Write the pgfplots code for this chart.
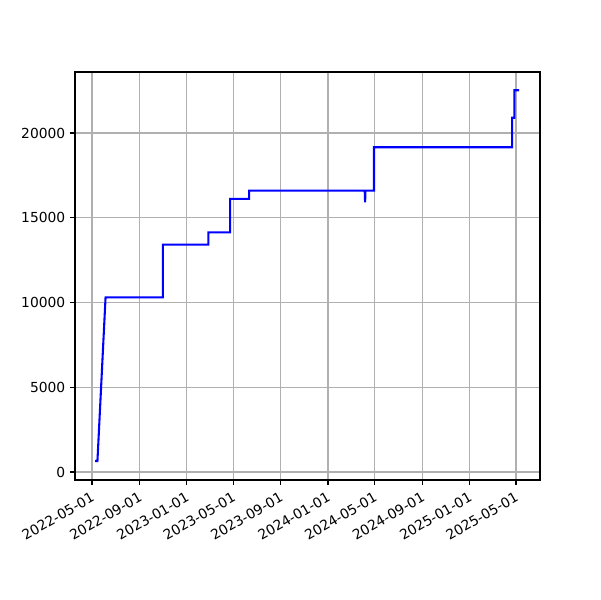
\documentclass[border=0pt]{standalone}
\usepackage{pgfplots}
\pgfplotsset{compat=1.18}
\usepackage{fontspec}
\setmainfont{DejaVu Sans}
\begin{document}
\begin{tikzpicture}
% 600x600 px page, 1px = 0.7227pt; axes box 75..540 x 72..480
\useasboundingbox (-54.2pt,-86.7pt) rectangle (379.4pt,346.9pt);
\begin{axis}[
    at={(0,0)}, anchor=south west,
    scale only axis,
    width=336pt, height=294.9pt,
    xmin=-44, xmax=1158,
    ymin=-472, ymax=23600,
    xtick={0,123,245,365,488,610,731,854,976,1096},
    xticklabels={2022-05-01,2022-09-01,2023-01-01,2023-05-01,2023-09-01,2024-01-01,2024-05-01,2024-09-01,2025-01-01,2025-05-01},
    ytick={0,5000,10000,15000,20000},
    scaled y ticks=false,
    xticklabel style={rotate=30, anchor=north east, font=\fontsize{10}{12}\selectfont},
    yticklabel style={font=\fontsize{10}{12}\selectfont},
    /pgf/number format/.cd, 1000 sep={}, assume math mode=true, /pgfplots/.cd,
    grid=major,
    grid style={color=black!31, line width=0.8pt},
    axis line style={line width=0.8pt},
    tick style={line width=0.8pt, black},
    tick align=outside,
    major tick length=3.5pt,
    xtick pos=bottom, ytick pos=left,
]
\addplot[blue, line width=1.5pt, mark=none] coordinates {
    (8,650) (14,650) (35,10300) (183,10300) (183,13410)
    (301,13410) (301,14140) (357,14140) (357,16110)
    (406,16110) (406,16600) (705,16600) (706,15910) (707,16600)
    (729,16600) (729,19160) (1086,19160) (1086,20900)
    (1092,20900) (1092,22520) (1104,22520)
};
\end{axis}
\end{tikzpicture}
\end{document}
